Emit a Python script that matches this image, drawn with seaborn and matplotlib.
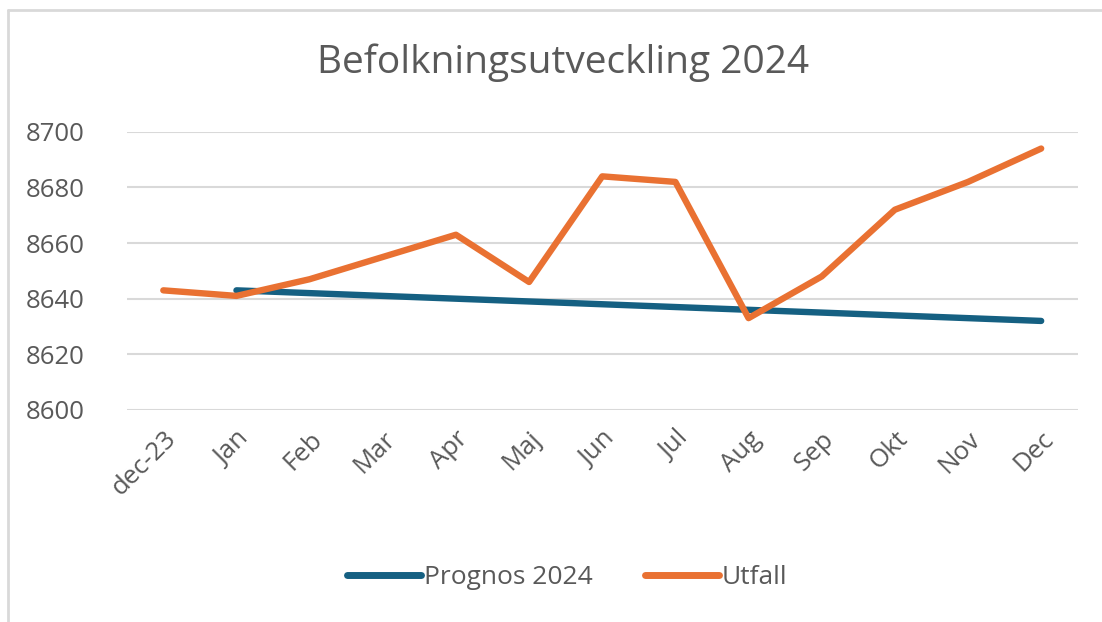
import pandas as pd
import matplotlib.pyplot as plt
import seaborn as sns
from matplotlib.lines import Line2D

# data
months = ["dec-23", "Jan", "Feb", "Mar", "Apr", "Maj", "Jun",
          "Jul", "Aug", "Sep", "Okt", "Nov", "Dec"]
utfall = [8643, 8641, 8647, 8655, 8663, 8646, 8684,
          8682, 8633, 8648, 8672, 8682, 8694]
prognos_months = ["Jan", "Feb", "Mar", "Apr", "Maj", "Jun",
                  "Jul", "Aug", "Sep", "Okt", "Nov", "Dec"]
prognos = [8643, 8642, 8641, 8640, 8639, 8638,
           8637, 8636, 8635, 8634, 8633, 8632]
y_ticks = [8600, 8620, 8640, 8660, 8680, 8700]

sns.set_style("white")
plt.rcParams["font.family"] = ["Open Sans", "DejaVu Sans"]

grey = "#595959"
blue = "#156082"
orange = "#E97132"

df_u = pd.DataFrame({"month": months, "value": utfall})
df_u["x"] = range(len(months))
df_p = pd.DataFrame({"month": prognos_months, "value": prognos})
df_p["x"] = [months.index(m) for m in prognos_months]

fig = plt.figure(figsize=(11.02, 6.22), dpi=100)
ax = fig.add_axes([0.115, 0.341, 0.863, 0.447])

sns.lineplot(data=df_p, x="x", y="value", ax=ax, color=blue, linewidth=4.6,
             label="Prognos 2024", solid_capstyle="round", clip_on=False)
sns.lineplot(data=df_u, x="x", y="value", ax=ax, color=orange, linewidth=4.6,
             label="Utfall", solid_capstyle="round", solid_joinstyle="round",
             clip_on=False)

ax.set_xlim(-0.5, len(months) - 0.5)
ax.set_ylim(8600, 8700)
ax.set_yticks(y_ticks)
ax.set_xticks(range(len(months)))
ax.set_xticklabels(months, rotation=45, ha="right", rotation_mode="anchor")
ax.tick_params(axis="both", colors=grey, labelsize=18.5, length=0)
ax.tick_params(axis="y", pad=30)
ax.tick_params(axis="x", pad=12)
ax.set_xlabel("")
ax.set_ylabel("")
ax.grid(axis="y", color="#D9D9D9", linewidth=1.5)
ax.set_axisbelow(True)
for s in ax.spines.values():
    s.set_visible(False)

ax.get_legend().remove()
handles, labels = ax.get_legend_handles_labels()
leg = fig.legend(handles, labels, loc="center", bbox_to_anchor=(0.515, 0.071),
                 ncol=2, frameon=False, fontsize=19, handlelength=2.8,
                 handletextpad=0.1, columnspacing=2.0)
for t in leg.get_texts():
    t.set_color(grey)
for l in leg.get_lines():
    l.set_linewidth(5)
    l.set_solid_capstyle("round")

fig.text(0.511, 0.9, "Befolkningsutveckling 2024", ha="center", va="center",
         fontsize=28, color=grey)

# chart area border (left and top only visible)
fig.add_artist(Line2D([8 / 1102, 8 / 1102], [0, 1 - 10 / 622],
                      transform=fig.transFigure, color="#D9D9D9", linewidth=2))
fig.add_artist(Line2D([8 / 1102, 1], [1 - 10 / 622, 1 - 10 / 622],
                      transform=fig.transFigure, color="#D9D9D9", linewidth=2))

fig.savefig("out.png", dpi=100)
